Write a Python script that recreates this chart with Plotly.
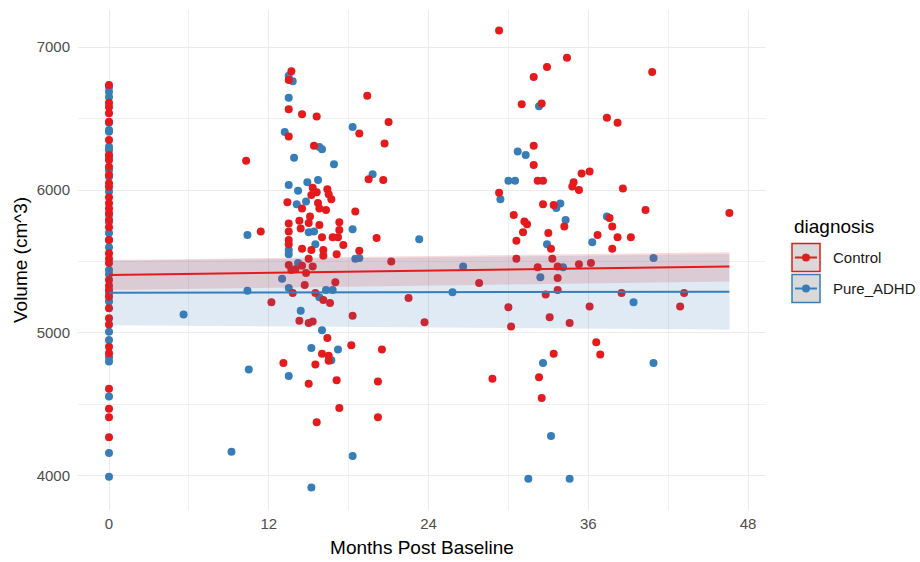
import plotly.graph_objects as go

RED = "#E41A1C"
BLUE = "#377EB8"
FONT = "Liberation Sans, Arial, Helvetica, sans-serif"

# Baseline scans (0 months post baseline), volume in cm^3
control_baseline = [
    6734, 6610, 6580, 6536, 6478, 6350, 6245, 6210, 6163, 6105, 6047, 6023, 5950,
    5907, 5870, 5837, 5790, 5740, 5650, 5557, 5520, 5490, 5371, 5330, 5301, 5254,
    5173, 5103, 5060, 4904, 4858, 4610, 4470, 4410, 4270,
]
adhd_baseline = [
    6720, 6687, 6650, 6470, 6420, 6408, 6303, 6280, 6233, 6140, 6093, 5990, 5825,
    5776, 5699, 5650, 5600, 5440, 5410, 5280, 5220, 5009, 4951, 4830, 4800, 4555,
    4160, 3995,
]

# Follow-up scans: (months post baseline, volume in cm^3)
control_followup = [
    (13.7, 6830), (13.5, 6770), (13.5, 6565), (14.5, 6530), (15.6, 6515), (19.4, 6660),
    (21.0, 6475), (18.8, 6395), (13.5, 6375), (20.7, 6325), (15.4, 6310), (10.3, 6205),
    (19.5, 6075), (20.6, 6070), (15.3, 6015), (15.6, 5985), (15.2, 5965), (16.4, 6005),
    (16.5, 5970), (16.7, 5935), (13.4, 5915), (14.5, 5870), (15.7, 5910), (15.8, 5870),
    (16.3, 5860), (18.5, 5850), (13.5, 5765), (13.5, 5710), (13.5, 5650), (13.5, 5620),
    (14.3, 5785), (14.4, 5730), (15.0, 5770), (15.1, 5815), (15.8, 5755), (17.3, 5775),
    (17.3, 5720), (16.8, 5670), (17.2, 5670), (16.0, 5670), (16.1, 5580), (15.2, 5580),
    (14.5, 5590), (17.6, 5615), (17.1, 5550), (20.1, 5665), (11.4, 5710), (18.8, 5575),
    (21.2, 5500), (15.0, 5520), (16.1, 5540), (13.5, 5475), (13.7, 5440), (14.5, 5470),
    (14.0, 5445), (15.3, 5465), (14.8, 5420), (14.7, 5335), (17.0, 5355), (13.8, 5280),
    (15.5, 5280), (16.1, 5230), (16.6, 5210), (12.2, 5215), (22.5, 5245), (18.3, 5120),
    (14.3, 5085), (15.0, 5070), (15.3, 5080), (16.4, 4965), (18.2, 4915), (20.5, 4885),
    (16.0, 4855), (16.5, 4840), (16.5, 4805), (13.1, 4790), (15.5, 4780), (15.0, 4645),
    (17.1, 4670), (20.2, 4660), (17.3, 4475), (15.6, 4375), (20.2, 4410), (23.7, 5075),
    (29.3, 7115), (34.4, 6925), (32.9, 6860), (31.9, 6790), (40.8, 6825), (31.0, 6600),
    (32.5, 6605), (37.4, 6505), (38.2, 6470), (31.9, 6310), (31.9, 6175), (32.2, 6065),
    (32.6, 6065), (35.5, 6115), (36.1, 6130), (34.9, 6055), (34.8, 6025), (35.3, 6000),
    (38.6, 6010), (29.3, 5980), (30.4, 5825), (32.6, 5900), (33.4, 5895), (31.2, 5780),
    (31.4, 5760), (31.1, 5705), (30.6, 5645), (33.0, 5700), (34.2, 5745), (40.3, 5860),
    (46.6, 5840), (37.6, 5805), (37.8, 5745), (36.7, 5685), (38.2, 5670), (39.2, 5670),
    (33.2, 5590), (37.8, 5590), (30.6, 5520), (33.3, 5520), (32.2, 5460), (33.7, 5465),
    (35.3, 5480), (36.2, 5490), (33.7, 5385), (27.8, 5350), (33.7, 5300), (32.8, 5270),
    (38.5, 5280), (43.2, 5280), (42.9, 5185), (30.0, 5180), (36.1, 5185), (33.1, 5110),
    (30.2, 5045), (34.6, 5070), (36.6, 4935), (36.9, 4850), (33.4, 4855), (28.8, 4680),
    (32.3, 4690), (32.5, 4545),
]
adhd_followup = [
    (13.5, 6800), (13.8, 6760), (13.5, 6645), (18.3, 6440), (13.2, 6405), (15.8, 6300),
    (16.0, 6285), (13.9, 6225), (16.9, 6180), (19.8, 6110), (13.5, 6035), (14.9, 6055),
    (15.7, 6070), (14.2, 5995), (14.1, 5900), (14.8, 5920), (13.5, 5580), (13.5, 5550),
    (15.0, 5705), (15.4, 5710), (15.5, 5620), (18.3, 5725), (10.4, 5685), (23.3, 5655),
    (18.5, 5520), (18.8, 5525), (14.2, 5490), (13.0, 5380), (13.5, 5315), (16.3, 5300),
    (16.8, 5300), (15.8, 5250), (10.4, 5295), (14.4, 5155), (16.0, 5020), (15.2, 4895),
    (17.2, 4885), (16.7, 4810), (10.5, 4745), (13.5, 4700), (9.2, 4170), (18.3, 4140),
    (15.2, 3920), (5.6, 5130), (25.8, 5285),
    (32.3, 6585), (30.7, 6270), (31.3, 6245), (30.0, 6065), (30.5, 6065), (29.4, 5935),
    (33.6, 5875), (33.9, 5905), (34.3, 5790), (37.4, 5815), (36.3, 5635), (32.9, 5620),
    (40.9, 5525), (26.6, 5465), (34.1, 5460), (32.4, 5390), (39.4, 5215), (32.6, 4790),
    (40.9, 4790), (33.2, 4280), (31.5, 3980), (34.6, 3980),
]

# Linear fits with 95% confidence bands, evaluated at the ends of the follow-up range
fit_months = [0, 46.6]
control_fit = [5405, 5465]
control_lo = [5300, 5360]
control_hi = [5510, 5565]
adhd_fit = [5282, 5289]
adhd_lo = [5055, 5025]
adhd_hi = [5505, 5552]

x_ticks = [0, 12, 24, 36, 48]
x_minor = [6, 18, 30, 42]
y_ticks = [4000, 5000, 6000, 7000]
y_minor = [4500, 5500, 6500]

groups = [
    ("Control", RED, "rgba(228,26,28,0.16)", control_baseline, control_followup,
     control_fit, control_lo, control_hi),
    ("Pure_ADHD", BLUE, "rgba(55,126,184,0.16)", adhd_baseline, adhd_followup,
     adhd_fit, adhd_lo, adhd_hi),
]

fig = go.Figure()

# points: Pure_ADHD underneath, Control drawn over it
for name, color, fill, base, follow, fit, lo, hi in reversed(groups):
    xs = [0] * len(base) + [m for m, _ in follow]
    ys = list(base) + [v for _, v in follow]
    fig.add_trace(go.Scatter(
        x=xs, y=ys, mode="markers", name=name, showlegend=False,
        marker=dict(color=color, size=8, line=dict(width=0)),
    ))

# confidence bands and fitted lines
for name, color, fill, base, follow, fit, lo, hi in groups:
    fig.add_trace(go.Scatter(
        x=fit_months + fit_months[::-1], y=hi + lo[::-1], mode="lines",
        fill="toself", fillcolor=fill, line=dict(width=0), hoverinfo="skip",
        showlegend=False,
    ))
for name, color, fill, base, follow, fit, lo, hi in groups:
    fig.add_trace(go.Scatter(
        x=fit_months, y=fit, mode="lines", line=dict(color=color, width=2),
        showlegend=False, hoverinfo="skip",
    ))

# panel geometry in pixels (used for the hand-drawn legend)
W, H = 920, 562
L, R, T, B = 78, 154, 10, 52
PW, PH = W - L - R, H - T - B


def px(xp):
    return (xp - L) / PW


def py(yp):
    return (H - B - yp) / PH


shapes = []
annotations = [dict(
    text="diagnosis", x=px(792), y=py(226), xref="paper", yref="paper",
    xanchor="left", yanchor="middle", showarrow=False,
    font=dict(family=FONT, size=19, color="#000000"),
)]
for i, (name, color, *_rest) in enumerate(groups):
    top = 243.5 + i * 31
    mid = top + 14
    shapes.append(dict(
        type="rect", xref="paper", yref="paper",
        x0=px(792), x1=px(820), y0=py(top + 28), y1=py(top),
        fillcolor="#D9D9D9", line=dict(color=color, width=1.5),
    ))
    shapes.append(dict(
        type="line", xref="paper", yref="paper",
        x0=px(795), x1=px(817), y0=py(mid), y1=py(mid),
        line=dict(color=color, width=2),
    ))
    shapes.append(dict(
        type="circle", xref="paper", yref="paper",
        x0=px(802), x1=px(810), y0=py(mid + 4), y1=py(mid - 4),
        fillcolor=color, line=dict(color=color, width=0),
    ))
    annotations.append(dict(
        text=name, x=px(831), y=py(mid), xref="paper", yref="paper",
        xanchor="left", yanchor="middle", showarrow=False,
        font=dict(family=FONT, size=15, color="#1A1A1A"),
    ))

axis_common = dict(
    showline=False, zeroline=False, ticks="", showgrid=True,
    gridcolor="#EBEBEB", gridwidth=1.3,
    tickfont=dict(family=FONT, size=15, color="#4D4D4D"),
)

fig.update_layout(
    width=W, height=H,
    margin=dict(l=L, r=R, t=T, b=B, autoexpand=False),
    paper_bgcolor="white", plot_bgcolor="white",
    font=dict(family=FONT),
    showlegend=False,
    shapes=shapes, annotations=annotations,
    xaxis=dict(
        axis_common, range=[-2.329, 49.35], tickmode="array", tickvals=x_ticks,
        ticklabelstandoff=3,
        minor=dict(tickmode="array", tickvals=x_minor, showgrid=True,
                   gridcolor="#F0F0F0", gridwidth=0.8),
        title=dict(text="Months Post Baseline", standoff=9,
                   font=dict(family=FONT, size=19, color="#000000")),
    ),
    yaxis=dict(
        axis_common, range=[3762, 7259], tickmode="array", tickvals=y_ticks,
        ticklabelstandoff=7,
        minor=dict(tickmode="array", tickvals=y_minor, showgrid=True,
                   gridcolor="#F0F0F0", gridwidth=0.8),
        title=dict(text="Volume (cm^3)", standoff=3,
                   font=dict(family=FONT, size=19, color="#000000")),
    ),
)

fig.write_html("out.html")
